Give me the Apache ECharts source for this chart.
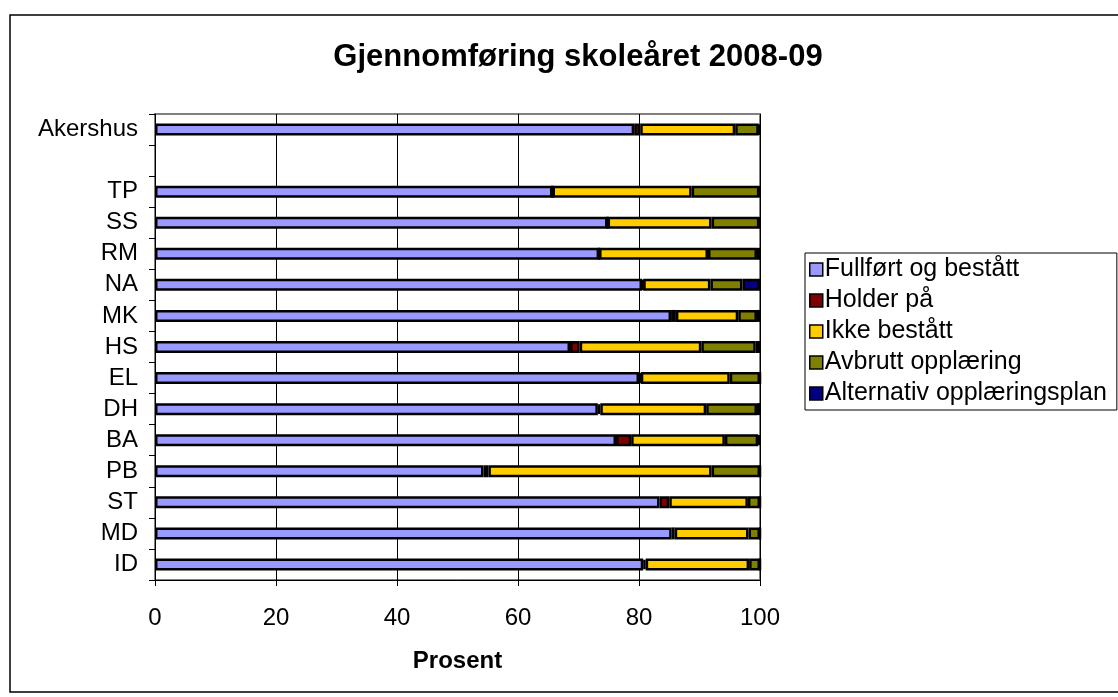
<!DOCTYPE html>
<html>
<head>
<meta charset="utf-8">
<script src="https://cdn.jsdelivr.net/npm/echarts@6/dist/echarts.min.js"></script>
<style>
  html, body { margin: 0; padding: 0; background: #fff; }
  #chart { width: 1118px; height: 697px; }
</style>
</head>
<body>
<div id="chart"></div>
<script>
// rows top to bottom (blank row between Akershus and TP)
const categories = ['Akershus', '', 'TP', 'SS', 'RM', 'NA', 'MK', 'HS', 'EL', 'DH', 'BA', 'PB', 'ST', 'MD', 'ID']

const fullfort    = [79.2, null, 65.7, 74.8, 73.4, 80.5, 85.3, 68.6, 80.0, 73.2, 76.2, 54.3, 83.4, 85.4, 80.7]
const holderPa    = [1.0,  null, 0,    0,    0,    0.2,  0.8,  1.6,  0.3,  0.4,  2.5,  0.8,  1.6,  0.5,  0.4]
const ikkeBestatt = [15.7, null, 23.0, 17.2, 18.0, 11.1, 10.3, 20.1, 14.7, 17.5, 15.5, 36.9, 13.0, 12.2, 17.1]
const avbrutt     = [3.9,  null, 11.2, 7.9,  8.1,  5.3,  3.1,  9.0,  5.0,  8.4,  5.5,  8.0,  2.0,  1.9,  1.8]
const alternativ  = [0.2,  null, 0.1,  0.1,  0.5,  2.9,  0.5,  0.7,  0,    0.5,  0.3,  0,    0,    0,    0]

const xTicks = { min: 0, max: 100, interval: 20 }

const seriesDefs = [
    { name: 'Fullført og bestått', data: fullfort, color: '#9999FF' },
    { name: 'Holder på', data: holderPa, color: '#800000' },
    { name: 'Ikke bestått', data: ikkeBestatt, color: '#FFCC00' },
    { name: 'Avbrutt opplæring', data: avbrutt, color: '#808000' },
    { name: 'Alternativ opplæringsplan', data: alternativ, color: '#000080' }
]

const font = 'Liberation Sans, Arial, sans-serif'

const chart = echarts.init(document.getElementById('chart'))

chart.setOption({
    animation: false,
    backgroundColor: '#fff',
    textStyle: { fontFamily: font, color: '#000' },
    title: {
        text: 'Gjennomføring skoleåret 2008-09',
        left: 573,
        top: 37,
        textAlign: 'center',
        textStyle: { fontSize: 31, fontWeight: 'bold', color: '#000', fontFamily: font }
    },
    graphic: [{
        type: 'rect',
        shape: { x: 10, y: 15, width: 1120, height: 677 },
        style: { fill: 'none', stroke: '#000', lineWidth: 1.5 },
        silent: true
    }],
    legend: {
        orient: 'vertical',
        left: 805,
        top: 253,
        itemWidth: 13,
        itemHeight: 13,
        itemGap: 6,
        padding: [4, 10, 4, 4],
        borderColor: '#000',
        borderWidth: 1,
        icon: 'rect',
        itemStyle: { borderColor: '#000', borderWidth: 1.5 },
        textStyle: { fontSize: 25, color: '#000', fontFamily: font, padding: [0, 0, 0, -3] },
        data: seriesDefs.map(s => s.name)
    },
    grid: {
        left: 155,
        right: 358,
        top: 114,
        bottom: 117,
        show: true,
        borderColor: '#808080',
        borderWidth: 2,
        containLabel: false
    },
    xAxis: {
        type: 'value',
        min: xTicks.min,
        max: xTicks.max,
        interval: xTicks.interval,
        name: 'Prosent',
        nameLocation: 'middle',
        nameGap: 69,
        nameTextStyle: { fontSize: 24, fontWeight: 'bold', color: '#000', fontFamily: font },
        axisLine: { show: true, lineStyle: { color: '#000', width: 1 } },
        axisTick: { show: true, length: 6, lineStyle: { color: '#000' } },
        axisLabel: { fontSize: 24, color: '#000', margin: 26, fontFamily: font },
        splitLine: { show: true, lineStyle: { color: '#000', width: 1 } }
    },
    yAxis: {
        type: 'category',
        inverse: true,
        data: categories,
        axisLine: { show: true, lineStyle: { color: '#000', width: 1 } },
        axisTick: { show: true, length: 6, interval: 0, alignWithLabel: false, lineStyle: { color: '#000' } },
        axisLabel: { fontSize: 24, color: '#000', margin: 17, interval: 0, fontFamily: font },
        splitLine: { show: false }
    },
    series: seriesDefs.map(s => ({
        name: s.name,
        type: 'bar',
        stack: 'total',
        barWidth: 12,
        data: s.data,
        itemStyle: { color: s.color, borderColor: '#000', borderWidth: 2.5 }
    }))
})
</script>
</body>
</html>
